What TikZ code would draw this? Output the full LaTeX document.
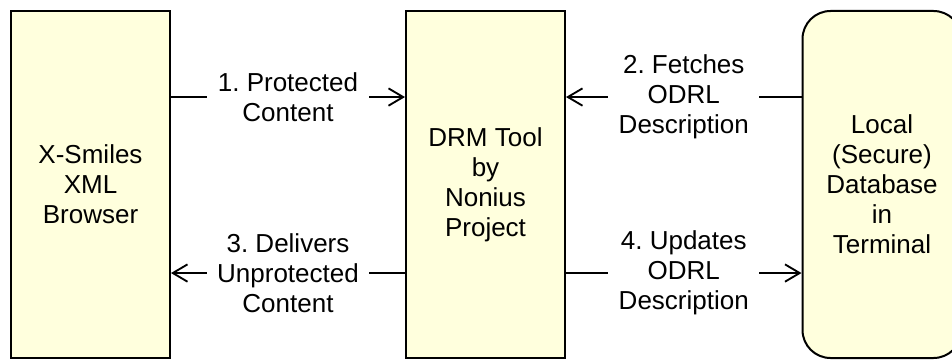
\documentclass[tikz,border=0pt]{standalone}
\usepackage{fontspec}
\setmainfont{Liberation Sans}
\usetikzlibrary{arrows.meta}
\definecolor{boxfill}{RGB}{255,255,221}
\frenchspacing

\begin{document}
\begin{tikzpicture}[x=0.75pt, y=-0.75pt,
    box/.style={draw, line width=1.5pt, fill=boxfill, minimum width=119.25pt,
        minimum height=260.25pt, align=center, font=\fontsize{19.5pt}{22.5pt}\selectfont},
    flow/.style={line width=1.5pt, -{Straight Barb[length=11pt, width=13pt, line width=1.4pt]}},
    lab/.style={fill=white, align=center, inner xsep=8pt, font=\fontsize{19.5pt}{22.5pt}\selectfont}]
    \clip (0,0) rectangle (952,360);

    \node (browser) [box] at (90.5,184.5) {X-Smiles\\XML\\Browser};
    \node (drm) [box] at (485.5,184.5) {DRM Tool\\by\\Nonius\\Project};
    \node (db) [box, rounded corners=21pt] at (882,184.5) {Local\\(Secure)\\Database\\in\\Terminal};

    \draw[flow] ([yshift=65.6pt]browser.east) -- node[lab] {1. Protected\\Content} ([yshift=65.6pt]drm.west);
    \draw[flow] ([yshift=65.6pt]db.west) -- node[lab] {2. Fetches\\ODRL\\Description} ([yshift=65.6pt]drm.east);
    \draw[flow] ([yshift=-66.4pt]drm.west) -- node[lab] {3. Delivers\\Unprotected\\Content} ([yshift=-66.4pt]browser.east);
    \draw[flow] ([yshift=-66.4pt]drm.east) -- node[lab] {4. Updates\\ODRL\\Description} ([yshift=-66.4pt]db.west);
\end{tikzpicture}
\end{document}
